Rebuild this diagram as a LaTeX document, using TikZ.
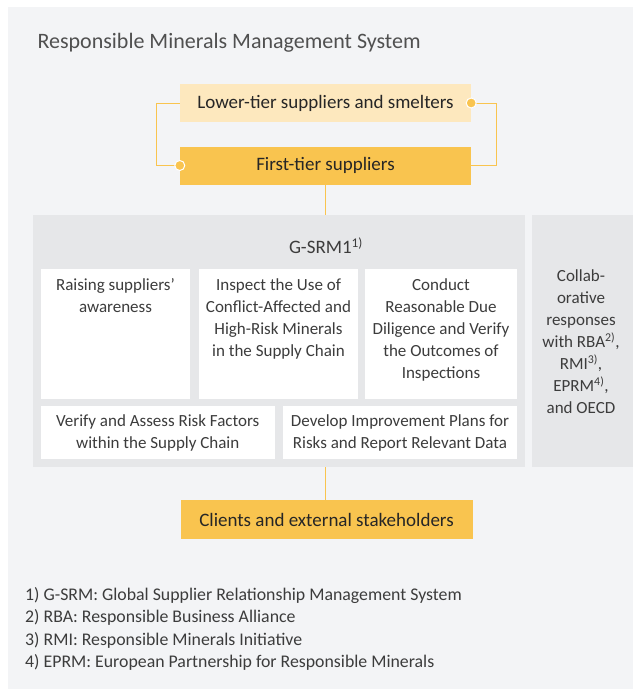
\documentclass[tikz,border=0pt]{standalone}
\usepackage{fontspec}
\setmainfont{Carlito}
\usepackage{tikz}
\usetikzlibrary{positioning}

\definecolor{panelgray}{HTML}{F3F4F6}
\definecolor{boxgray}{HTML}{E6E7E9}
\definecolor{palegold}{HTML}{FDE8BE}
\definecolor{gold}{HTML}{F9C44F}
\definecolor{txtgray}{HTML}{3C3C3C}

\begin{document}
\begin{tikzpicture}[
    x=1pt, y=-1pt,
    every node/.style={text=txtgray, font=\fontsize{17}{22}\selectfont},
    tier/.style={rectangle, minimum width=291pt, minimum height=38pt, inner sep=0pt, text=black!85, font=\fontsize{19}{22}\selectfont},
    graybox/.style={rectangle, fill=boxgray, inner sep=0pt},
    taskbox/.style={rectangle, fill=white, inner sep=0pt},
    tasktext/.style={align=center, inner sep=0pt},
    conn/.style={draw=gold, line width=1pt},
    dot/.style={fill=gold, draw=white, line width=1pt}
]
\useasboundingbox (0,0) rectangle (633,689);
\fill[panelgray] (8,7) rectangle (633,689);

% Titel
\node[anchor=west, font=\fontsize{22}{26}\selectfont, text=txtgray!90] (title) at (34,43) {Responsible Minerals Management System};

% Lieferanten
\node[tier, fill=palegold] (lower) at (325.5,103) {Lower-tier suppliers and smelters};
\node[tier, fill=gold] (first) at (325.5,165.5) {First-tier suppliers};

% G-SRM
\node[graybox, minimum width=492pt, minimum height=252pt] (gsrm) at (279,341) {};
\node[tasktext, font=\fontsize{19}{22}\selectfont] (gsrmtitle) at (326,246) {G-SRM1\textsuperscript{1)}};
\node[graybox, minimum width=101pt, minimum height=252pt] (collab) at (582.5,341) {};
\node[tasktext] (collabtext) at (581,342) {Collab-\\orative\\responses\\with RBA\textsuperscript{2)},\\RMI\textsuperscript{3)},\\EPRM\textsuperscript{4)},\\and OECD};

% Aufgaben
\node[taskbox, minimum width=149pt, minimum height=130pt] (raise) at (115.5,334) {};
\node[taskbox, minimum width=159pt, minimum height=130pt] (inspect) at (278.5,334) {};
\node[taskbox, minimum width=152pt, minimum height=130pt] (conduct) at (441,334) {};
\node[taskbox, minimum width=233.5pt, minimum height=53pt] (verify) at (157.75,432.5) {};
\node[taskbox, minimum width=234pt, minimum height=53pt] (develop) at (400,432.5) {};
\node[tasktext, anchor=north] at ([yshift=-10pt]raise.north) {Raising suppliers'\\awareness};
\node[tasktext, anchor=north] at ([yshift=-10pt]inspect.north) {Inspect the Use of\\Conflict-Affected and\\High-Risk Minerals\\in the Supply Chain};
\node[tasktext, anchor=north] at ([yshift=-10pt]conduct.north) {Conduct\\Reasonable Due\\Diligence and Verify\\the Outcomes of\\Inspections};
\node[tasktext] at (verify) {Verify and Assess Risk Factors\\within the Supply Chain};
\node[tasktext] at (develop) {Develop Improvement Plans for\\Risks and Report Relevant Data};

% Kunden
\node[tier, fill=gold, minimum width=292pt, minimum height=39pt] (clients) at (326.5,519.5) {Clients and external stakeholders};

% Verbindungen
\draw[conn] (lower.west) -- ++(-23,0) |- (first.west);
\draw[conn] (lower.east) -- ++(25,0) |- (first.east);
\draw[conn] (first.south) -- (first.south |- gsrm.north);
\draw[conn] (first.south |- gsrm.south) -- (first.south |- clients.north);
\filldraw[dot] (lower.east) circle (5pt);
\filldraw[dot] (first.west) circle (5pt);

% Fussnoten
\node[tasktext, align=left, anchor=north west, font=\fontsize{17.8}{22.5}\selectfont] (notes) at (25,587) {1) G-SRM: Global Supplier Relationship Management System\\2) RBA: Responsible Business Alliance\\3) RMI: Responsible Minerals Initiative\\4) EPRM: European Partnership for Responsible Minerals};

\end{tikzpicture}
\end{document}
